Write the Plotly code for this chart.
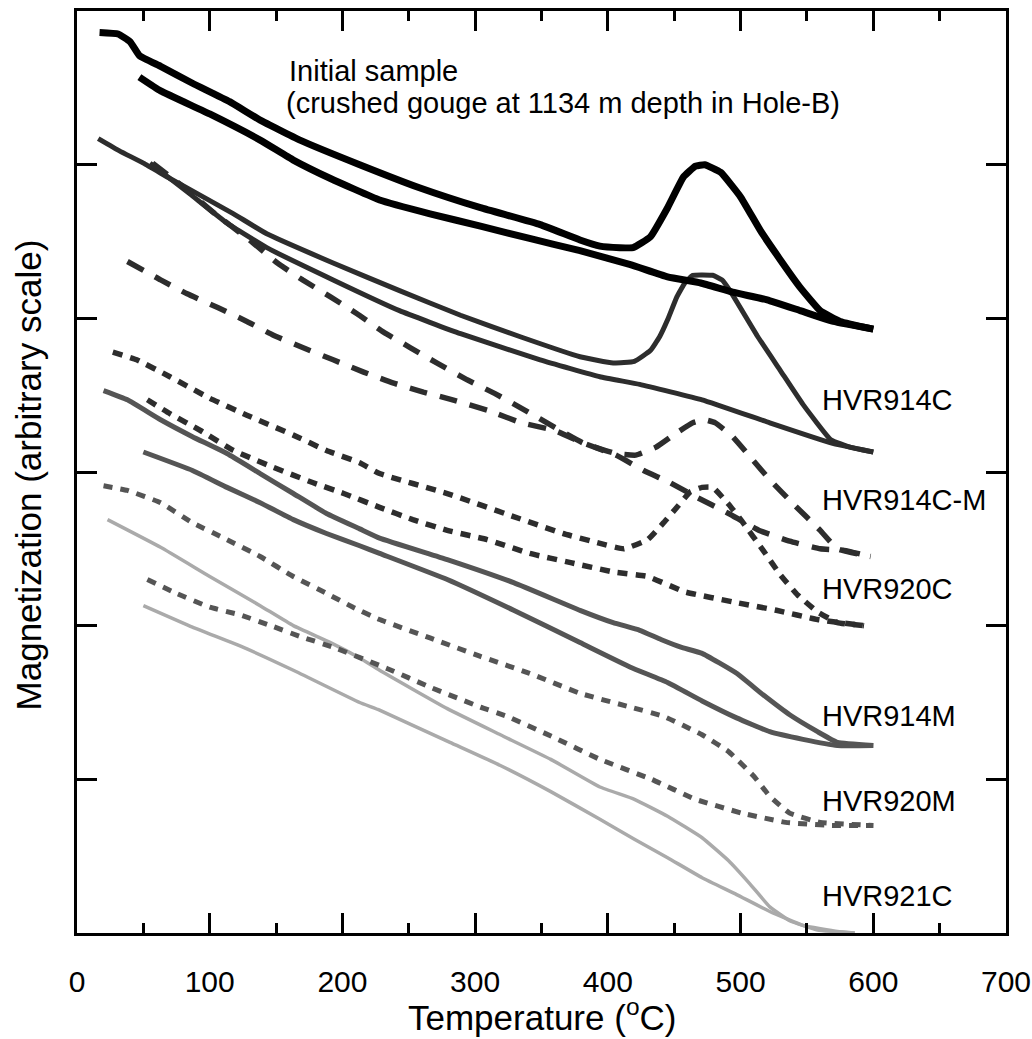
import plotly.graph_objects as go

# Temperature (oC) / magnetization (arbitrary)
init_heat_t = [17, 31, 40, 47, 63, 87, 115, 138, 168, 213, 258, 304, 349, 379, 394, 409, 419, 432, 445, 457,
               466, 473, 485, 500, 515, 530, 545, 560, 575, 600]
init_heat_m = [5.86, 5.85, 5.80, 5.71, 5.64, 5.53, 5.41, 5.29, 5.16, 5.00, 4.85, 4.72, 4.61, 4.51, 4.47, 4.46, 4.46, 4.53, 4.72, 4.92,
               4.99, 5.00, 4.95, 4.79, 4.57, 4.38, 4.20, 4.05, 3.98, 3.93]
init_cool_t = [47, 63, 100, 138, 163, 191, 228, 266, 304, 341, 379, 417, 445, 470, 494, 520, 545, 570, 600]
init_cool_m = [5.57, 5.48, 5.33, 5.16, 5.03, 4.91, 4.77, 4.68, 4.60, 4.52, 4.44, 4.35, 4.27, 4.23, 4.17, 4.12, 4.05, 3.98, 3.93]

c914_heat_t = [16, 32, 50, 70, 93, 118, 143, 193, 243, 289, 334, 379, 404, 420, 432, 439, 445, 452, 458, 464,
               479, 486, 492, 513, 530, 547, 568, 583, 600]
c914_heat_m = [5.17, 5.09, 5.01, 4.91, 4.80, 4.68, 4.55, 4.36, 4.18, 4.02, 3.88, 3.75, 3.71, 3.72, 3.79, 3.88, 3.99, 4.14, 4.23, 4.28,
               4.28, 4.25, 4.18, 3.88, 3.66, 3.44, 3.21, 3.16, 3.13]
c914_cool_t = [55, 85, 113, 143, 193, 243, 289, 349, 394, 424, 471, 522, 568, 600]
c914_cool_m = [5.01, 4.81, 4.62, 4.46, 4.25, 4.05, 3.90, 3.73, 3.62, 3.57, 3.47, 3.32, 3.19, 3.13]

c914m_heat_t = [57, 78, 104, 130, 151, 170, 191, 211, 231, 251, 271, 294, 315, 338, 360, 381, 406, 421, 436, 451,
                464, 473, 481, 494, 509, 522, 540, 560, 573, 598]
c914m_heat_m = [5.01, 4.87, 4.68, 4.51, 4.36, 4.25, 4.14, 4.03, 3.91, 3.81, 3.71, 3.60, 3.51, 3.40, 3.29, 3.19, 3.12, 3.11, 3.16, 3.25,
                3.32, 3.34, 3.32, 3.23, 3.08, 2.95, 2.79, 2.62, 2.50, 2.45]
c914m_cool_t = [38, 63, 83, 106, 128, 148, 170, 193, 216, 238, 261, 283, 310, 335, 360, 381, 406, 427, 447, 466,
                491, 514, 537, 560, 578, 598]
c914m_cool_m = [4.37, 4.25, 4.16, 4.07, 3.98, 3.89, 3.81, 3.73, 3.65, 3.58, 3.52, 3.47, 3.40, 3.32, 3.27, 3.19, 3.11, 3.01, 2.93, 2.84,
                2.73, 2.62, 2.55, 2.50, 2.49, 2.45]

c920_heat_t = [27, 45, 70, 100, 128, 163, 188, 213, 228, 279, 329, 366, 392, 412, 430, 442, 453, 462, 471, 479,
               491, 501, 517, 530, 543, 558, 573, 593]
c920_heat_m = [3.78, 3.73, 3.62, 3.48, 3.37, 3.24, 3.14, 3.06, 2.99, 2.86, 2.71, 2.60, 2.54, 2.50, 2.56, 2.67, 2.78, 2.87, 2.90, 2.90,
               2.79, 2.68, 2.49, 2.33, 2.20, 2.09, 2.02, 2.00]
c920_cool_t = [53, 70, 93, 118, 148, 178, 201, 228, 253, 279, 309, 341, 372, 404, 430, 458, 497, 527, 558, 593]
c920_cool_m = [3.47, 3.38, 3.27, 3.14, 3.03, 2.93, 2.86, 2.77, 2.69, 2.62, 2.56, 2.47, 2.41, 2.35, 2.32, 2.22, 2.15, 2.10, 2.04, 2.00]

m914_heat_t = [20, 38, 63, 87, 113, 138, 163, 188, 213, 228, 279, 329, 379, 404, 424, 440, 455, 471, 497, 517,
               537, 558, 573, 600]
m914_heat_m = [3.53, 3.47, 3.34, 3.23, 3.12, 2.99, 2.86, 2.73, 2.63, 2.57, 2.43, 2.28, 2.10, 2.02, 1.97, 1.91, 1.86, 1.82, 1.69, 1.55,
               1.42, 1.31, 1.24, 1.22]
m914_cool_t = [50, 87, 113, 138, 163, 188, 213, 228, 279, 329, 379, 417, 445, 471, 497, 522, 547, 573, 600]
m914_cool_m = [3.13, 3.01, 2.90, 2.80, 2.69, 2.60, 2.52, 2.47, 2.30, 2.10, 1.89, 1.73, 1.63, 1.51, 1.40, 1.31, 1.26, 1.22, 1.22]

m920_heat_t = [20, 38, 63, 87, 113, 138, 163, 188, 208, 228, 266, 304, 341, 379, 417, 442, 471, 491, 510, 522,
               537, 560, 600]
m920_heat_m = [2.91, 2.88, 2.80, 2.67, 2.56, 2.45, 2.32, 2.21, 2.12, 2.04, 1.92, 1.80, 1.69, 1.56, 1.47, 1.41, 1.29, 1.18, 1.02, 0.89,
               0.78, 0.72, 0.70]
m920_cool_t = [53, 75, 100, 123, 146, 168, 193, 234, 266, 304, 324, 360, 394, 433, 466, 501, 534, 568, 600]
m920_cool_m = [2.30, 2.21, 2.12, 2.07, 2.00, 1.93, 1.86, 1.72, 1.60, 1.47, 1.41, 1.27, 1.13, 1.00, 0.87, 0.78, 0.72, 0.70, 0.70]

c921_heat_t = [23, 63, 100, 138, 163, 191, 213, 228, 279, 319, 357, 394, 420, 445, 471, 491, 507, 522, 537, 558, 586]
c921_heat_m = [2.69, 2.51, 2.32, 2.13, 2.00, 1.89, 1.79, 1.71, 1.46, 1.29, 1.13, 0.95, 0.87, 0.76, 0.62, 0.47, 0.32, 0.17, 0.08, 0.02, 0.0]
c921_cool_t = [50, 87, 125, 163, 213, 228, 281, 319, 357, 394, 420, 445, 471, 497, 522, 547, 573, 586]
c921_cool_m = [2.13, 1.99, 1.86, 1.71, 1.50, 1.45, 1.24, 1.09, 0.92, 0.74, 0.61, 0.49, 0.36, 0.25, 0.14, 0.05, 0.01, 0.0]

labels = ["HVR914C", "HVR914C-M", "HVR920C", "HVR914M", "HVR920M", "HVR921C"]
label_y = [3.47, 2.82, 2.24, 1.41, 0.86, 0.24]

FONT = "Liberation Sans, Arial, sans-serif"

# (name, heating x/y, cooling x/y, colour, width, dash), drawn bottom to top
curves = [
    ("HVR921C", c921_heat_t, c921_heat_m, c921_cool_t, c921_cool_m, "#aaaaaa", 3.5, "solid"),
    ("HVR920M", m920_heat_t, m920_heat_m, m920_cool_t, m920_cool_m, "#555555", 5, "9px,8px"),
    ("HVR914M", m914_heat_t, m914_heat_m, m914_cool_t, m914_cool_m, "#555555", 5, "solid"),
    ("HVR920C", c920_heat_t, c920_heat_m, c920_cool_t, c920_cool_m, "#2d2d2d", 5.5, "10px,8px"),
    ("HVR914C-M", c914m_heat_t, c914m_heat_m, c914m_cool_t, c914m_cool_m, "#2d2d2d", 5.5, "18px,13px"),
    ("HVR914C", c914_heat_t, c914_heat_m, c914_cool_t, c914_cool_m, "#2d2d2d", 5, "solid"),
    ("Initial", init_heat_t, init_heat_m, init_cool_t, init_cool_m, "#000000", 7, "solid"),
]

fig = go.Figure()
for name, ht, hm, ct, cm, col, w, dash in curves:
    for xs, ys in [(ht, hm), (ct, cm)]:
        fig.add_trace(go.Scatter(
            x=xs, y=ys, mode="lines", name=name, showlegend=False,
            line=dict(color=col, width=w, dash=dash, shape="spline", smoothing=0.35),
        ))

for txt, yv in zip(labels, label_y):
    fig.add_annotation(x=560, y=yv, text=txt, showarrow=False, xanchor="left", yanchor="middle",
                       font=dict(size=29, color="black", family=FONT))

fig.add_annotation(x=158, y=5.61, text="Initial sample", showarrow=False, xanchor="left", yanchor="middle",
                   font=dict(size=29, color="black", family=FONT))
fig.add_annotation(x=156, y=5.40, text="(crushed gouge at 1134 m depth in Hole-B)", showarrow=False,
                   xanchor="left", yanchor="middle", font=dict(size=29, color="black", family=FONT))

# axis titles
fig.add_annotation(xref="paper", yref="paper", x=0.5, y=-0.089, text="Temperature (<sup>o</sup>C)",
                   showarrow=False, xanchor="center", yanchor="middle",
                   font=dict(size=35, color="black", family=FONT))
fig.add_annotation(xref="paper", yref="paper", x=-0.052, y=0.497, text="Magnetization (arbitrary scale)",
                   showarrow=False, textangle=-90, xanchor="center", yanchor="middle",
                   font=dict(size=35, color="black", family=FONT))

fig.update_xaxes(
    range=[0, 700], tick0=0, dtick=100, ticks="inside", ticklen=20, tickwidth=2.5, tickcolor="black",
    minor=dict(dtick=50, ticks="inside", ticklen=10, tickwidth=2.5, tickcolor="black"),
    showline=True, linewidth=3, linecolor="black", mirror="allticks",
    showgrid=False, zeroline=False, ticklabelstandoff=20, automargin=False, ticklabeloverflow="allow",
    tickfont=dict(size=30, color="black", family=FONT),
)
fig.update_yaxes(
    range=[0, 6], tick0=0, dtick=1, ticks="inside", ticklen=20, tickwidth=2.5, tickcolor="black",
    showticklabels=False, showline=True, linewidth=3, linecolor="black", mirror="allticks",
    showgrid=False, zeroline=False, automargin=False,
)

fig.update_layout(
    width=1032, height=1039,
    margin=dict(l=77, r=26, t=11, b=106),
    plot_bgcolor="white", paper_bgcolor="white",
    font=dict(family=FONT, color="black"),
)

# drop the page margin, scrollbars and modebar so the figure fills the window
fig.write_html(
    "out.html",
    config={"displayModeBar": False},
    post_script="document.body.style.margin='0px';document.documentElement.style.overflow='hidden';",
)
